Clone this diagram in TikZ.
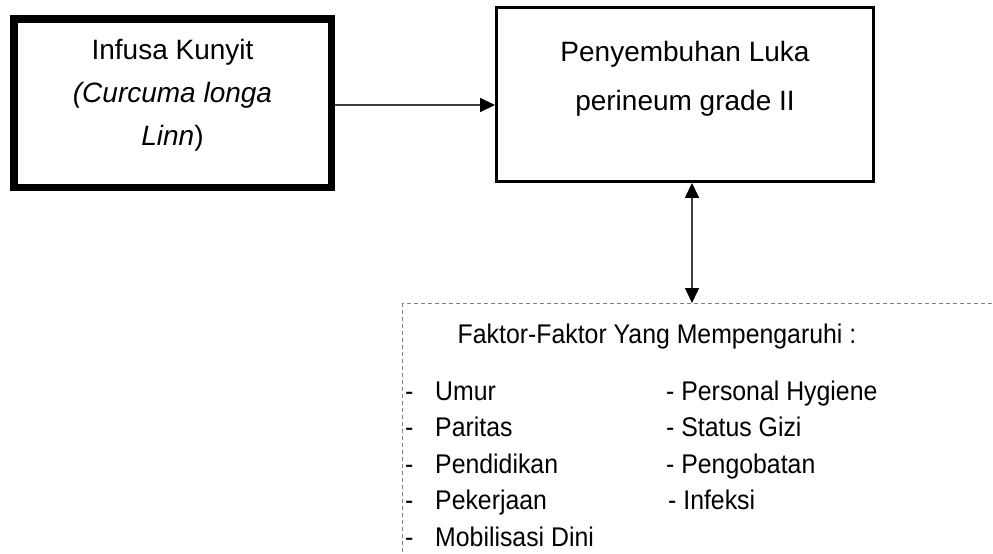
\documentclass[tikz,border=0pt]{standalone}
\usepackage{fontspec}
\setmainfont{Liberation Sans}
\newfontfamily\sempit[FakeStretch=0.92]{Liberation Sans}
\usetikzlibrary{arrows.meta, positioning, calc}
\tikzset{
  tebal/.style={rectangle, draw=black, line width=7.5pt, minimum width=317.5pt,
                minimum height=168.5pt, align=center, inner sep=0pt,
                font=\fontsize{28}{43}\selectfont},
  kotak/.style={rectangle, draw=black, line width=2.5pt, minimum width=377.4pt,
                minimum height=174.4pt, align=center, inner sep=0pt,
                font=\fontsize{28}{49}\selectfont},
  putus/.style={rectangle, draw=black!50, dash pattern=on 4pt off 3pt, line width=1pt,
                minimum width=620pt, minimum height=280pt, inner sep=0pt, anchor=north west},
  judul/.style={font=\sempit\fontsize{27}{33}\selectfont, inner sep=0pt, anchor=base},
  daftar/.style={font=\sempit\fontsize{27}{33}\selectfont, inner sep=0pt, anchor=base west},
  panah/.style={-{Triangle[length=15pt,width=14pt,color=black]}, line width=1.5pt, draw=black!75},
  panahdua/.style={{Triangle[length=15pt,width=14pt,color=black]}-{Triangle[length=15pt,width=14pt,color=black]},
                   line width=1.5pt, draw=black!75}
}

\begin{document}
\begin{tikzpicture}[x=1pt, y=-1pt]
\useasboundingbox (0,0) rectangle (993,554);
\clip (0,0) rectangle (993,554);
\node[tebal, text height=94pt, text depth=10pt] (infusa) at (172.5,103)
  {Infusa Kunyit\\{\itshape (Curcuma longa}\\{\itshape Linn})};
\node[kotak, text height=71pt, text depth=40pt] (luka) at (685,94.5)
  {Penyembuhan Luka\\perineum grade II};
\node[putus] (faktor) at (402,303) {};
\node[judul] (faktorjudul) at (657,343) {Faktor-Faktor Yang Mempengaruhi :};
% daftar faktor
\foreach \nama [count=\i] in {Umur, Paritas, Pendidikan, Pekerjaan, Mobilisasi Dini} {
  \pgfmathsetmacro{\yy}{400+36.5*(\i-1)}
  \node[daftar] (kiri\i) at (405,\yy) {\makebox[30pt][l]{-}\nama};
}
\foreach \xx/\nama [count=\i] in {666/Personal Hygiene, 666/Status Gizi, 666/Pengobatan, 668/Infeksi} {
  \pgfmathsetmacro{\yy}{400+36.5*(\i-1)}
  \node[daftar] (kanan\i) at (\xx,\yy) {- \nama};
}
\coordinate (mulai) at ([yshift=-2pt]infusa.east);
\draw[panah] (mulai) -- (mulai -| luka.west);
\coordinate (tengah) at ([xshift=7pt]luka.south);
\draw[panahdua] (tengah) -- (tengah |- faktor.north);
\end{tikzpicture}
\end{document}
